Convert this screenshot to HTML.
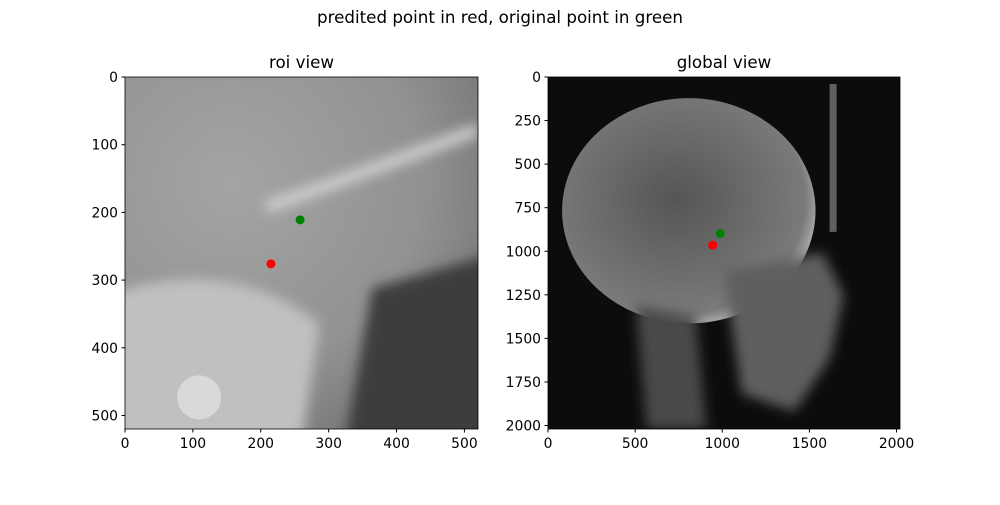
<!DOCTYPE html>
<html><head><meta charset="utf-8"><style>
body{margin:0;background:#fff;}
svg text{font-family:"DejaVu Sans","Liberation Sans",sans-serif;}
</style></head><body>
<svg width="1000" height="500" viewBox="0 0 1000 500">
<defs>
<radialGradient id="roiBg" cx="0.3" cy="0.3" r="0.9">
<stop offset="0" stop-color="#a4a4a4"/><stop offset="0.6" stop-color="#929292"/><stop offset="1" stop-color="#6e6e6e"/>
</radialGradient>
<radialGradient id="skull" cx="0.45" cy="0.45" r="0.6">
<stop offset="0" stop-color="#555"/><stop offset="0.85" stop-color="#7a7a7a"/><stop offset="1" stop-color="#c8c8c8"/>
</radialGradient>
<filter id="blur"><feGaussianBlur stdDeviation="6"/></filter>
<clipPath id="c1"><rect x="125" y="77" width="353" height="352"/></clipPath>
<clipPath id="c2"><rect x="548" y="77" width="352" height="352"/></clipPath>
</defs>
<text x="500" y="23" text-anchor="middle" font-size="16.7">predited point in red, original point in green</text>
<g id="left"></g>
<g id="right"></g>
</svg>
<script>
const ns='http://www.w3.org/2000/svg';
const roiTicksX=[0,100,200,300,400,500];
const roiTicksY=[0,100,200,300,400,500];
const roiExtent=[520,520];
const roiPred=[215,276];
const roiOrig=[258,211];
const globTicksX=[0,500,1000,1500,2000];
const globTicksY=[0,250,500,750,1000,1250,1500,1750,2000];
const globExtent=[2020,2020];
const globPred=[945,965];
const globOrig=[988,898];
function el(p,t,a,name){const e=document.createElementNS(ns,t);for(const k in a)e.setAttribute(k,a[k]);


p.appendChild(e);return e;}
function panel(g,x0,y0,w,h,ext,tx,ty,pred,orig,title,kind){
 const sx=v=>x0+v/ext[0]*w, sy=v=>y0+v/ext[1]*h;
 const img=el(g,'g',{'clip-path':kind=='roi'?'url(#c1)':'url(#c2)'},'image');
 if(kind=='roi'){
  el(img,'rect',{x:x0,y:y0,width:w,height:h,fill:'url(#roiBg)'},'image-background');
  const b=el(img,'g',{filter:'url(#blur)'},'image-detail');
  el(b,'path',{d:`M${x0-20} ${y0+h*0.62} Q${x0+w*0.3} ${y0+h*0.5} ${x0+w*0.55} ${y0+h*0.7} L${x0+w*0.5} ${y0+h+20} L${x0-20} ${y0+h+20}Z`,fill:'#c0c0c0'},'bright-bone');
  el(b,'path',{d:`M${x0+w*0.7} ${y0+h*0.6} L${x0+w+20} ${y0+h*0.5} L${x0+w+20} ${y0+h+20} L${x0+w*0.62} ${y0+h+20}Z`,fill:'#3c3c3c'},'dark-region');
  el(b,'path',{d:`M${x0+w*0.4} ${y0+h*0.37} Q${x0+w*0.6} ${y0+h*0.3} ${x0+w} ${y0+h*0.15}`,stroke:'#cfcfcf','stroke-width':12,fill:'none'},'bone-ridge');
  el(img,'circle',{cx:x0+w*0.21,cy:y0+h*0.91,r:22,fill:'#dcdcdc',opacity:0.9},'ear-rod');
 } else {
  el(img,'rect',{x:x0,y:y0,width:w,height:h,fill:'#0c0c0c'},'image-background');
  el(img,'ellipse',{cx:x0+w*0.4,cy:y0+h*0.38,rx:w*0.36,ry:h*0.32,fill:'url(#skull)'},'skull');
  const b=el(img,'g',{filter:'url(#blur)'},'image-detail');
  el(b,'path',{d:`M${x0+w*0.5} ${y0+h*0.55} L${x0+w*0.78} ${y0+h*0.5} L${x0+w*0.84} ${y0+h*0.62} L${x0+w*0.8} ${y0+h*0.8} L${x0+w*0.7} ${y0+h*0.95} L${x0+w*0.55} ${y0+h*0.9}Z`,fill:'#5e5e5e'},'face');
  el(b,'path',{d:`M${x0+w*0.25} ${y0+h*0.65} L${x0+w*0.42} ${y0+h*0.68} L${x0+w*0.45} ${y0+h} L${x0+w*0.28} ${y0+h}Z`,fill:'#484848'},'neck');
  el(img,'rect',{x:x0+w*0.8,y:y0+h*0.02,width:7,height:h*0.42,fill:'#606060'},'head-holder');
 }
 el(g,'rect',{x:x0,y:y0,width:w,height:h,fill:'none',stroke:'#000','stroke-width':0.8},'axes-frame');
 tx.forEach(v=>{const x=sx(v);el(g,'line',{x1:x,x2:x,y1:y0+h,y2:y0+h+3.5,stroke:'#000'},'x-tick');
  el(g,'text',{x:x,y:y0+h+19,'text-anchor':'middle','font-size':13.9},'x-tick-label').textContent=v;});
 ty.forEach(v=>{const y=sy(v);el(g,'line',{x1:x0-3.5,x2:x0,y1:y,y2:y,stroke:'#000'},'y-tick');
  el(g,'text',{x:x0-7,y:y+5,'text-anchor':'end','font-size':13.9},'y-tick-label').textContent=v;});
 el(g,'circle',{cx:sx(orig[0]),cy:sy(orig[1]),r:4.5,fill:'#008000'},'original-point');
 el(g,'circle',{cx:sx(pred[0]),cy:sy(pred[1]),r:4.5,fill:'#ff0000'},'predicted-point');
 el(g,'text',{x:x0+w/2,y:y0-9,'text-anchor':'middle','font-size':16.7},'panel-title').textContent=title;
}
panel(document.getElementById('left'),125,77,353,352,roiExtent,roiTicksX,roiTicksY,roiPred,roiOrig,'roi view','roi');
panel(document.getElementById('right'),548,77,352,352,globExtent,globTicksX,globTicksY,globPred,globOrig,'global view','glob');
</script>
</body></html>
